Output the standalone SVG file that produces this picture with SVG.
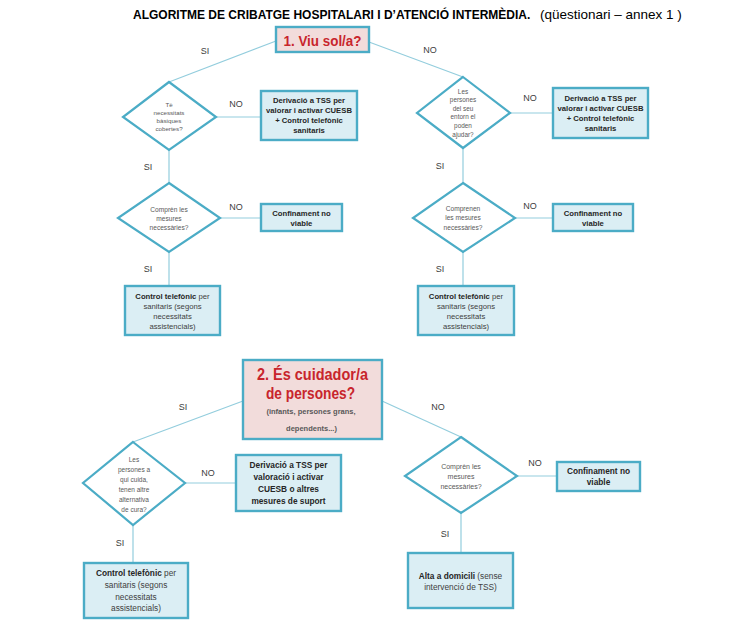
<svg xmlns="http://www.w3.org/2000/svg" width="746" height="631" viewBox="0 0 746 631">
<style>
text{font-family:"Liberation Sans",Arial,sans-serif;text-anchor:middle}
.c{stroke:#93cddd;stroke-width:1.2;fill:none}
.d{fill:#fff;stroke:#4bacc6;stroke-width:2.2}
.b{fill:#dbeef4;stroke:#4bacc6;stroke-width:2.4}
.p{fill:#f2dcdb;stroke:#4bacc6;stroke-width:2.4}
.dt{fill:#595959}
.bt{fill:#262626;font-weight:bold;font-size:7.7px}
.bt2{fill:#262626;font-weight:bold;font-size:8.3px}
.n{font-weight:normal;fill:#404040}
.l{fill:#404040;font-size:9px}
.r{fill:#c8252c;font-weight:bold}
</style>
<rect width="746" height="631" fill="#fff"/>
<g id="title">
<text x="133" y="19" style="text-anchor:start;font-weight:bold;font-size:12px" fill="#000">ALGORITME DE CRIBATGE HOSPITALARI I D’ATENCIÓ INTERMÈDIA.</text>
<text x="540" y="19" style="text-anchor:start;font-size:13.5px" fill="#000">(qüestionari – annex 1 )</text>
</g>
<g id="connectors">
<line class="c" x1="276" y1="41" x2="169" y2="82"/>
<line class="c" x1="369" y1="42" x2="463" y2="77"/>
<line class="c" x1="216" y1="117" x2="261" y2="117"/>
<line class="c" x1="510" y1="113" x2="553" y2="113"/>
<line class="c" x1="169" y1="150" x2="169" y2="183"/>
<line class="c" x1="463" y1="148" x2="463" y2="183"/>
<line class="c" x1="220" y1="218" x2="261" y2="218"/>
<line class="c" x1="515" y1="218" x2="553" y2="218"/>
<line class="c" x1="169" y1="252" x2="169" y2="286"/>
<line class="c" x1="463" y1="252" x2="463" y2="286"/>
<line class="c" x1="243" y1="401" x2="133" y2="442"/>
<line class="c" x1="382" y1="401" x2="461" y2="437"/>
<line class="c" x1="185" y1="483" x2="236" y2="483"/>
<line class="c" x1="133" y1="525" x2="133" y2="563"/>
<line class="c" x1="517" y1="476" x2="557" y2="476"/>
<line class="c" x1="461" y1="513" x2="461" y2="553"/>
<text class="l" x="205" y="54">SI</text>
<text class="l" x="430" y="53">NO</text>
<text class="l" x="236" y="107">NO</text>
<text class="l" x="530" y="101">NO</text>
<text class="l" x="148" y="170">SI</text>
<text class="l" x="440" y="169">SI</text>
<text class="l" x="236" y="210">NO</text>
<text class="l" x="530" y="209">NO</text>
<text class="l" x="148" y="272">SI</text>
<text class="l" x="440" y="272">SI</text>
<text class="l" x="183" y="410">SI</text>
<text class="l" x="438" y="410">NO</text>
<text class="l" x="208" y="476">NO</text>
<text class="l" x="120" y="546">SI</text>
<text class="l" x="535" y="466">NO</text>
<text class="l" x="445" y="537">SI</text>
</g>
<g id="q1">
<rect class="p" x="276" y="27" width="93" height="25"/>
<text class="r" x="322.5" y="45.5" style="font-size:15px" textLength="78" lengthAdjust="spacingAndGlyphs">1.  Viu sol/a?</text>
</g>
<g id="d1">
<polygon class="d" points="169,82 216,117 169,150 123,117"/>
<text class="dt" style="font-size:6.2px"><tspan x="169" y="106.5">Tè</tspan><tspan x="169" y="114.5">necessitats</tspan><tspan x="169" y="122.5">bàsiques</tspan><tspan x="169" y="130.5">cobertes?</tspan></text>
</g>
<g id="b1">
<rect class="b" x="261" y="91" width="96" height="49"/>
<text class="bt"><tspan x="309" y="103">Derivació a TSS per</tspan><tspan x="309" y="113">valorar i activar CUESB</tspan><tspan x="309" y="123">+ Control telefònic</tspan><tspan x="309" y="133">sanitaris</tspan></text>
</g>
<g id="d2">
<polygon class="d" points="463,77 510,113 463,148 417,113"/>
<text class="dt" style="font-size:6.4px"><tspan x="463" y="94">Les</tspan><tspan x="463" y="102">persones</tspan><tspan x="463" y="110.5">del seu</tspan><tspan x="463" y="119">entorn el</tspan><tspan x="463" y="128">poden</tspan><tspan x="463" y="137">ajudar?</tspan></text>
</g>
<g id="b2">
<rect class="b" x="553" y="88" width="95" height="50"/>
<text class="bt"><tspan x="600.5" y="101">Derivació a TSS per</tspan><tspan x="600.5" y="111">valorar i activar CUESB</tspan><tspan x="600.5" y="121">+ Control telefònic</tspan><tspan x="600.5" y="131">sanitaris</tspan></text>
</g>
<g id="d3">
<polygon class="d" points="169,183 220,218 169,252 118,218"/>
<text class="dt" style="font-size:6.6px"><tspan x="169" y="211.5">Comprèn les</tspan><tspan x="169" y="220.5">mesures</tspan><tspan x="169" y="229.5">necessàries?</tspan></text>
</g>
<g id="b3">
<rect class="b" x="261" y="204" width="81" height="27"/>
<text class="bt"><tspan x="301.5" y="216">Confinament no</tspan><tspan x="301.5" y="226">viable</tspan></text>
</g>
<g id="d4">
<polygon class="d" points="463,183 515,218 463,252 413,218"/>
<text class="dt" style="font-size:6.6px"><tspan x="463" y="210.5">Comprenen</tspan><tspan x="463" y="220">les mesures</tspan><tspan x="463" y="229.5">necessàries?</tspan></text>
</g>
<g id="b4">
<rect class="b" x="553" y="204" width="80" height="27"/>
<text class="bt"><tspan x="593" y="216">Confinament no</tspan><tspan x="593" y="226">viable</tspan></text>
</g>
<g id="b5">
<rect class="b" x="125" y="286" width="95" height="49"/>
<text class="bt"><tspan x="172.5" y="299">Control telefònic <tspan class="n">per</tspan></tspan><tspan class="n" x="172.5" y="309">sanitaris (segons</tspan><tspan class="n" x="172.5" y="319">necessitats</tspan><tspan class="n" x="172.5" y="329">assistencials)</tspan></text>
</g>
<g id="b6">
<rect class="b" x="418" y="286" width="96" height="49"/>
<text class="bt"><tspan x="466" y="299">Control telefònic <tspan class="n">per</tspan></tspan><tspan class="n" x="466" y="309">sanitaris (segons</tspan><tspan class="n" x="466" y="319">necessitats</tspan><tspan class="n" x="466" y="329">assistencials)</tspan></text>
</g>
<g id="q2">
<rect class="p" x="243" y="360" width="139" height="79"/>
<text class="r" x="312.5" y="380" style="font-size:16px" textLength="111" lengthAdjust="spacingAndGlyphs">2.  És cuidador/a</text>
<text class="r" x="310.5" y="399" style="font-size:16px" textLength="89" lengthAdjust="spacingAndGlyphs">de persones?</text>
<text x="311" y="414" style="font-size:7.5px;font-weight:bold" fill="#595959">(infants, persones grans,</text>
<text x="311.5" y="431" style="font-size:7.5px;font-weight:bold" fill="#595959">dependents...)</text>
</g>
<g id="d5">
<polygon class="d" points="133,442 185,483 133,525 83,483"/>
<text class="dt" style="font-size:6.5px"><tspan x="134" y="461.5">Les</tspan><tspan x="134" y="471.5">persones a</tspan><tspan x="134" y="481.5">qui cuida,</tspan><tspan x="134" y="491.5">tenen altre</tspan><tspan x="134" y="501.5">alternativa</tspan><tspan x="134" y="511.5">de cura?</tspan></text>
</g>
<g id="b7">
<rect class="b" x="236" y="455" width="105" height="56"/>
<text class="bt2"><tspan x="288.5" y="468">Derivació a TSS per</tspan><tspan x="288.5" y="480">valoració i activar</tspan><tspan x="288.5" y="492">CUESB o altres</tspan><tspan x="288.5" y="504">mesures de suport</tspan></text>
</g>
<g id="b8">
<rect class="b" x="84" y="563" width="104" height="55"/>
<text class="bt2"><tspan x="136" y="576">Control telefònic <tspan class="n">per</tspan></tspan><tspan class="n" x="136" y="588">sanitaris (segons</tspan><tspan class="n" x="136" y="600">necessitats</tspan><tspan class="n" x="136" y="611">assistencials)</tspan></text>
</g>
<g id="d6">
<polygon class="d" points="461,437 517,476 461,513 405,476"/>
<text class="dt" style="font-size:7px"><tspan x="461" y="468.5">Comprèn les</tspan><tspan x="461" y="478.5">mesures</tspan><tspan x="461" y="488.5">necessàries?</tspan></text>
</g>
<g id="b9">
<rect class="b" x="557" y="462" width="83" height="29"/>
<text class="bt2"><tspan x="598.5" y="474">Confinament no</tspan><tspan x="598.5" y="485">viable</tspan></text>
</g>
<g id="b10">
<rect class="b" x="408" y="553" width="105" height="55"/>
<text class="bt2"><tspan x="460.5" y="579">Alta a domicili <tspan class="n">(sense</tspan></tspan><tspan class="n" x="460.5" y="590">intervenció de TSS)</tspan></text>
</g>
</svg>
